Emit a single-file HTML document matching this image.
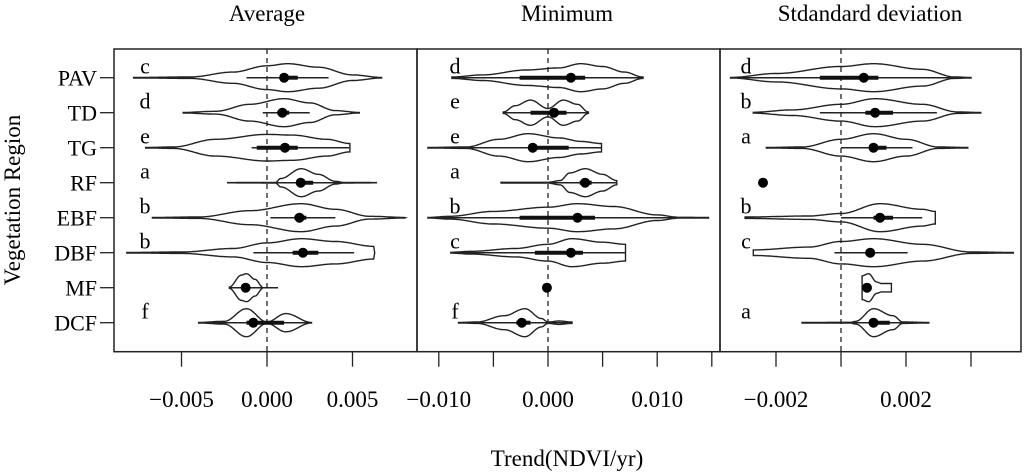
<!DOCTYPE html>
<html><head><meta charset="utf-8"><style>
html,body{margin:0;padding:0;background:#fff;}
svg{display:block;font-family:"Liberation Serif",serif;}
</style></head><body>
<svg id="chart" width="1024" height="472" viewBox="0 0 1024 472" xmlns="http://www.w3.org/2000/svg">
<text x="267" y="21" font-size="23" text-anchor="middle">Average</text>
<text x="567" y="21" font-size="23" text-anchor="middle">Minimum</text>
<text x="870" y="21" font-size="23" text-anchor="middle">Stdandard deviation</text>
<text x="567" y="466" font-size="23" text-anchor="middle">Trend(NDVI/yr)</text>
<text transform="translate(20,200) rotate(-90)" font-size="23" text-anchor="middle">Vegetation Region</text>
<g id="plot"></g>
</svg>
<script>
const categories = ["PAV","TD","TG","RF","EBF","DBF","MF","DCF"];
// values in units of 1e-3 NDVI/yr
const avgProfiles = [
 [[-7.8,0.02],[-4.5,0.05],[-2,0.4],[0,0.85],[1.2,1],[3,0.75],[5,0.2],[6.7,0.02]],
 [[-4.9,0.02],[-3,0.1],[-1,0.6],[1,1],[2.5,0.7],[4,0.15],[5.4,0.02]],
 [[-7.1,0.02],[-5.5,0.05],[-3,0.6],[0,0.95],[1.5,0.9],[3.5,0.6],[4.85,0.3]],
 [[-2.3,0.01],[0.5,0.02],[0.8,0.3],[2,1],[3,0.6],[4,0.1],[4.5,0.02],[6.4,0.01]],
 [[-6.7,0.02],[-4,0.05],[-1,0.5],[2,1],[4,0.6],[6,0.1],[8.1,0.02]],
 [[-8.2,0.02],[-5,0.05],[-2,0.3],[0,0.7],[2,1],[4,0.8],[6.3,0.45]],
 [[-2.2,0.05],[-1.5,0.9],[-1.2,1],[-0.7,0.6],[-0.25,0.05]],
 [[-4,0.02],[-2.5,0.1],[-1.2,1],[0,0.05],[1.1,0.65],[2.6,0.02]]
];
const avgWhiskerLo = [-1.2,-0.25,-0.9,-2.3,0.2,-0.8,-2.2,-4];
const avgWhiskerHi = [3.6,2.5,4.8,6.4,4.0,5.1,0.65,2.6];
const avgQ1 = [0.9,0.6,-0.6,1.75,1.6,1.5,-1.4,-1.2];
const avgQ3 = [1.8,1.3,1.8,2.7,2.3,3.0,-1.0,1.0];
const avgMedian = [1.0,0.9,1.05,1.97,1.9,2.1,-1.25,-0.8];
const avgLetters = ["c","d","e","a","b","b","","f"];

const minProfiles = [
 [[-8.8,0.05],[-6,0.2],[-2,0.55],[1,0.7],[3,1],[5,0.8],[7,0.4],[8.7,0.05]],
 [[-4.1,0.05],[-3,0.5],[-1.6,0.9],[0,0.3],[1.4,0.9],[2.7,0.6],[3.7,0.05]],
 [[-11,0.02],[-7.5,0.05],[-4.5,0.6],[-1.8,1],[1,0.7],[3,0.45],[4.9,0.3]],
 [[-4.3,0.03],[0,0.03],[1.1,0.15],[2,0.7],[3.4,1],[5,0.6],[6.3,0.15]],
 [[-11,0.02],[-9,0.1],[-5,0.45],[0,0.75],[2.7,1],[6,0.8],[10,0.2],[12,0.03],[14.7,0.02]],
 [[-8.9,0.03],[-7,0.1],[-3,0.3],[0,0.6],[2.2,1],[5,0.75],[7.1,0.6]],
 [],
 [[-8.2,0.02],[-6.5,0.05],[-4,0.5],[-2.1,1],[-0.6,0.3],[0,0.05],[1,0.12],[2.2,0.05]]
];
const minWhiskerLo = [-8.8,-4.1,-11,-4.3,-11,-8.9,-0.1,-8.2];
const minWhiskerHi = [8.7,3.7,4.9,6.3,14.7,7.1,-0.1,2.2];
const minQ1 = [-2.6,-1.6,-1.4,2.9,-2.6,-1.2,-0.1,-2.9];
const minQ3 = [3.4,1.7,1.9,4.0,4.3,3.2,-0.1,-1.6];
const minMedian = [2.1,0.55,-1.4,3.4,2.7,2.1,-0.1,-2.4];
const minLetters = ["d","e","e","a","b","c","","f"];

const sdProfiles = [
 [[-3.4,0.02],[-2,0.3],[0,0.8],[1,1],[2.5,0.6],[3.5,0.05],[4.0,0.02]],
 [[-2.7,0.03],[-1.5,0.2],[0,0.6],[1.05,1],[2.5,0.6],[3.6,0.05],[4.3,0.02]],
 [[-2.3,0.02],[-1.2,0.05],[0,0.6],[1,1],[2,0.6],[3,0.05],[3.9,0.02]],
 [],
 [[-2.95,0.05],[-1,0.12],[0,0.3],[1.2,1],[2.5,0.6],[2.9,0.45]],
 [[-2.7,0.2],[-1,0.4],[0,0.8],[1,1],[2.5,0.6],[4,0.05],[5.3,0.02]],
 [[0.65,0.85],[0.85,1],[1.1,0.4],[1.25,0.3],[1.55,0.3]],
 [[-1.2,0.02],[0.3,0.03],[0.45,0.1],[1,1],[1.6,0.5],[1.9,0.05],[2.7,0.02]]
];
const sdWhiskerLo = [-3.4,-0.65,0,-2.4,0,-0.2,0.8,-1.2];
const sdWhiskerHi = [4.0,2.95,2.2,-2.4,2.5,2.05,0.8,2.7];
const sdQ1 = [-0.65,0.75,0.9,-2.4,1.0,0.75,0.8,0.9];
const sdQ3 = [1.15,1.6,1.4,-2.4,1.6,0.95,0.8,1.5];
const sdMedian = [0.7,1.05,1.0,-2.4,1.2,0.9,0.8,1.0];
const sdLetters = ["d","b","a","","b","c","","a"];

const avgTicks = [-5,0,5];
const avgTickLabels = ["\u22120.005","0.000","0.005"];
const minTicks = [-10,-5,0,5,10,15];
const minTickLabels = ["\u22120.010","","0.000","","0.010",""];
const sdTicks = [-2,0,2,4];
const sdTickLabels = ["\u22120.002","","0.002",""];

const NS = "http://www.w3.org/2000/svg";
const plot = document.getElementById("plot");
function mk(tag, attrs, parent){
  const e = document.createElementNS(NS, tag);
  for (const k in attrs) e.setAttribute(k, attrs[k]);
  (parent||plot).appendChild(e);
  return e;
}
const TOP = 49, BOTTOM = 351.7;
function yScale(i){ return 77.7 + i*35; }
const HW = 14;

const panels = [
 {name:"average", left:114, right:417, zero:267, k:17.1, prof:avgProfiles, wlo:avgWhiskerLo, whi:avgWhiskerHi, q1:avgQ1, q3:avgQ3, med:avgMedian, letters:avgLetters, ticks:avgTicks, labels:avgTickLabels},
 {name:"minimum", left:417, right:720, zero:548, k:10.92, prof:minProfiles, wlo:minWhiskerLo, whi:minWhiskerHi, q1:minQ1, q3:minQ3, med:minMedian, letters:minLetters, ticks:minTicks, labels:minTickLabels},
 {name:"sd", left:720, right:1021, zero:841, k:32.5, prof:sdProfiles, wlo:sdWhiskerLo, whi:sdWhiskerHi, q1:sdQ1, q3:sdQ3, med:sdMedian, letters:sdLetters, ticks:sdTicks, labels:sdTickLabels}
];

function density(prof, v){
  for (let j=0;j<prof.length-1;j++){
    const a=prof[j], b=prof[j+1];
    if (v>=a[0] && v<=b[0]){
      const t=(v-a[0])/((b[0]-a[0])||1);
      const s=(1-Math.cos(Math.PI*t))/2;
      return a[1]+(b[1]-a[1])*s;
    }
  }
  return 0;
}

// y axis
for (let i=0;i<categories.length;i++){
  const y=yScale(i);
  const t=mk("line",{x1:100,x2:114,y1:y,y2:y,stroke:"#222","stroke-width":1.3});
  
  
  const l=mk("text",{x:97,y:y+8,"font-size":22,"text-anchor":"end"});
  l.textContent=categories[i];
  
  
}

panels.forEach(p=>{
  const xs = v => p.zero + v*p.k;
  const g = mk("g",{});
  
  
  const frame = mk("rect",{x:p.left,y:TOP,width:p.right-p.left,height:BOTTOM-TOP,fill:"none",stroke:"#222","stroke-width":1.5},g);
  
  
  const z = mk("line",{x1:xs(0),x2:xs(0),y1:TOP,y2:BOTTOM,stroke:"#222","stroke-width":1.3,"stroke-dasharray":"5,4"},g);
  
  
  p.ticks.forEach((tv,j)=>{
    const tk = mk("line",{x1:xs(tv),x2:xs(tv),y1:BOTTOM,y2:BOTTOM+15,stroke:"#222","stroke-width":1.3},g);
    
    
    if (p.labels[j]){
      const tl = mk("text",{x:xs(tv),y:407,"font-size":23,"text-anchor":"middle"},g);
      tl.textContent=p.labels[j];
      
      
    }
  });
  for (let i=0;i<categories.length;i++){
    const y=yScale(i);
    const prof=p.prof[i];
    if (prof.length){
      const lo=prof[0][0], hi=prof[prof.length-1][0];
      const n=Math.max(2,Math.ceil((hi-lo)*p.k));
      const up=[], dn=[];
      for (let s=0;s<=n;s++){
        const v=lo+(hi-lo)*s/n;
        const w=density(prof,v)*HW;
        up.push(xs(v).toFixed(1)+","+(y-w).toFixed(1));
        dn.unshift(xs(v).toFixed(1)+","+(y+w).toFixed(1));
      }
      const vio = mk("polygon",{points:up.concat(dn).join(" "),fill:"none",stroke:"#222","stroke-width":1.4},g);
      
      
      const wl = mk("line",{x1:xs(p.wlo[i]),x2:xs(p.whi[i]),y1:y,y2:y,stroke:"#222","stroke-width":1.5},g);
      
      
      const bx = mk("line",{x1:xs(p.q1[i]),x2:xs(p.q3[i]),y1:y,y2:y,stroke:"#111","stroke-width":4},g);
      
      
    }
    const md = mk("circle",{cx:xs(p.med[i]),cy:y,r:5,fill:"#000"},g);
    
    
    if (p.letters[i]){
      const lt = mk("text",{x:p.left+(p.name==="sd"?26:(p.name==="minimum"?38:31)),y:y-4,"font-size":22,"text-anchor":"middle"},g);
      lt.textContent=p.letters[i];
      
      
    }
  }
});
</script>
</body></html>
